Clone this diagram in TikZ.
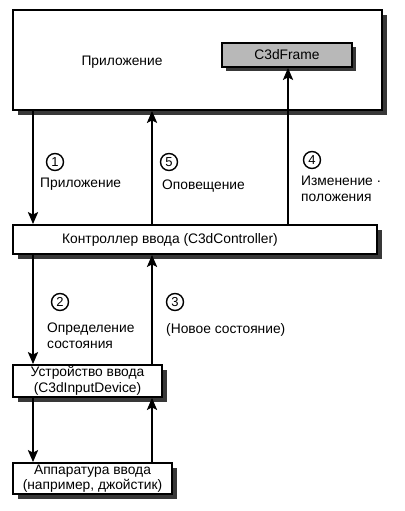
\documentclass[tikz,border=0pt]{standalone}
\usepackage{fontspec}
\setmainfont{Liberation Sans}
\usetikzlibrary{arrows.meta}
\begin{document}
\begin{tikzpicture}[x=1pt,y=-1pt,
  box/.style={draw=black,line width=1.7pt,fill=white,rectangle,inner sep=0pt},
  graybox/.style={box,fill=black!28},
  shadowfill/.style={fill=black!78},
  lbl/.style={font=\fontsize{13.8}{16}\selectfont,inner sep=0pt,align=left,anchor=west},
  txt/.style={font=\fontsize{13.8}{15.5}\selectfont,inner sep=0pt,align=center},
  num/.style={circle,draw=black,line width=1.4pt,minimum size=17pt,inner sep=0pt,font=\fontsize{13}{13}\selectfont},
  arr/.style={line width=2.8pt,-{Stealth[length=12pt,width=10pt,inset=2.5pt]}}]
\useasboundingbox (0,0) rectangle (404,511);
% boxes with drop shadows
\fill[shadowfill] (18,15) rectangle (387,115);
\node[box,minimum width=369pt,minimum height=100pt] (app) at (197.5,60) {};
\node[txt] (apptxt) at (122,62) {Приложение};
\fill[shadowfill] (226,47) rectangle (356,71);
\node[graybox,minimum width=130pt,minimum height=24pt,txt] (frame) at (287,55) {C3dFrame};
\fill[shadowfill] (18,230) rectangle (382,259);
\node[box,minimum width=364pt,minimum height=29pt] (ctrl) at (195,239.5) {};
\node[txt] (ctrltxt) at (170,240) {Контроллер ввода (C3dController)};
\fill[shadowfill] (18,370) rectangle (167,402);
\node[box,minimum width=149pt,minimum height=32pt,txt] (dev) at (87.5,381) {Устройство ввода\\(C3dInputDevice)};
\fill[shadowfill] (18,468) rectangle (177,499);
\node[box,minimum width=159pt,minimum height=31pt,txt] (hw) at (92.5,478.5) {Аппаратура ввода\\(например, джойстик)};
% x positions
\coordinate (xa) at (33,0);
\coordinate (xb) at (152,0);
\coordinate (xc) at (288,0);
% connectors
\draw[arr] (app.south -| xa) -- (ctrl.north -| xa);
\draw[arr] (ctrl.north -| xb) -- (app.south -| xb);
\draw[arr] (ctrl.north -| xc) -- (frame.south -| xc);
\draw[arr] (ctrl.south -| xa) -- (dev.north -| xa);
\draw[arr] (dev.north -| xb) -- (ctrl.south -| xb);
\draw[arr] (dev.south -| xa) -- (hw.north -| xa);
\draw[arr] (hw.north -| xb) -- (dev.south -| xb);
% labels
\node[num] (n1) at (55,162) {1};
\node[lbl] (l1) at (40,184) {Приложение};
\node[num] (n5) at (169,162) {5};
\node[lbl] (l5) at (162,186) {Оповещение};
\node[num] (n4) at (312,160) {4};
\node[lbl] (l4) at (301,189) {Изменение ·\\положения};
\node[num] (n2) at (60,302) {2};
\node[lbl] (l2) at (47,336) {Определение\\состояния};
\node[num] (n3) at (175,302) {3};
\node[lbl] (l3) at (166,330) {(Новое состояние)};
\end{tikzpicture}
\end{document}
